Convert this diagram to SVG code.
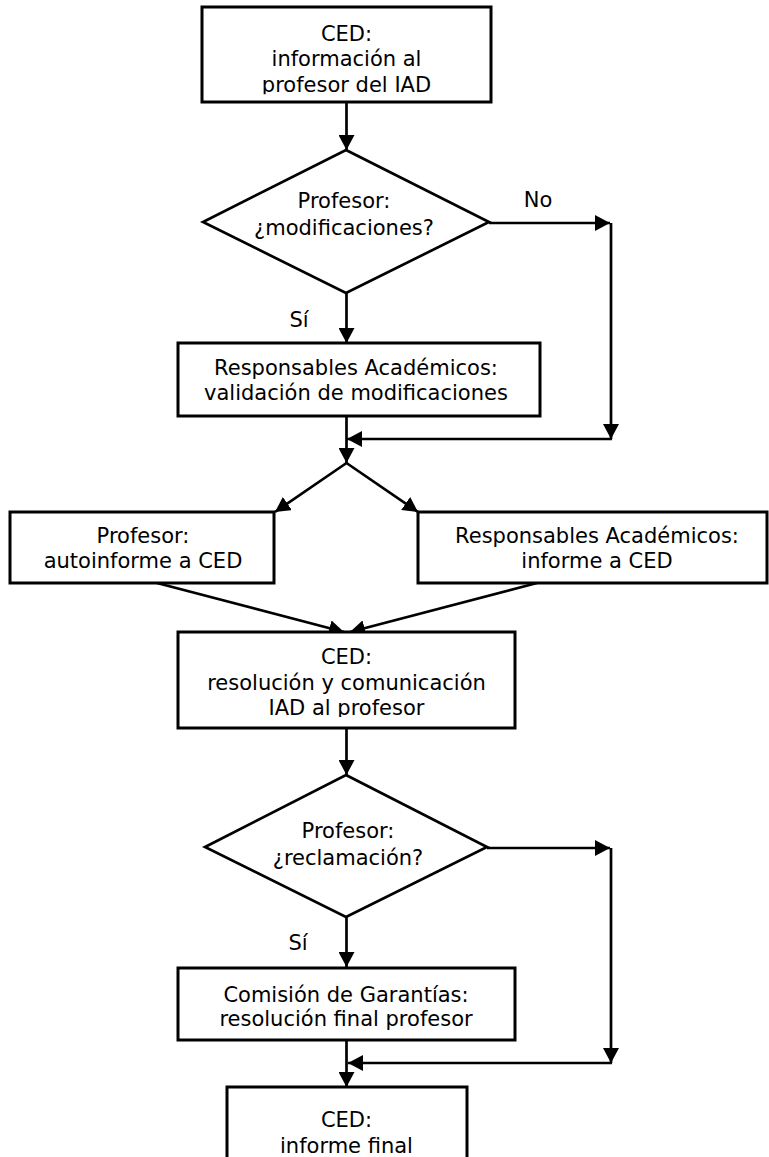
<svg xmlns="http://www.w3.org/2000/svg" width="769" height="1157" viewBox="0 0 769 1157">
<style>
.box{fill:#fff;stroke:#000;stroke-width:3}
.dia{fill:#fff;stroke:#000;stroke-width:2.7}
.t{font-family:"DejaVu Sans","Verdana",sans-serif;font-size:21px;fill:#000;text-anchor:middle}
.c{fill:none;stroke:#000;stroke-width:2.7;marker-end:url(#ah)}
</style>
<defs>
<marker id="ah" markerUnits="userSpaceOnUse" markerWidth="15" markerHeight="16" refX="15" refY="8" orient="auto" viewBox="0 0 15 16">
<path d="M0,0 L15,8 L0,16 z" fill="#000"/>
</marker>
<clipPath id="clipTop"><rect x="200" y="0" width="300" height="94.3"/></clipPath>
<clipPath id="clipCed"><rect x="170" y="630" width="360" height="87"/></clipPath>
</defs>

<g id="connectors">
<path class="c" d="M346.5,102 V150"/>
<path class="c" d="M489,223 H610"/>
<path class="c" d="M611,223 V439"/>
<path class="c" d="M612,439 H347"/>
<path class="c" d="M346.5,293 V343"/>
<path class="c" d="M346.5,416 V463"/>
<path class="c" d="M346.5,463 L275,512"/>
<path class="c" d="M346.5,463 L418,512"/>
<path class="c" d="M157,583 L344,632"/>
<path class="c" d="M537,583 L350,632"/>
<path class="c" d="M346.5,728 V775"/>
<path class="c" d="M487,848 H610"/>
<path class="c" d="M611,848 V1063"/>
<path class="c" d="M612,1063 H348"/>
<path class="c" d="M346.5,917 V967"/>
<path class="c" d="M346.5,1040 V1087"/>
<text class="t" x="538" y="207">No</text>
<text class="t" x="299" y="327">Sí</text>
<text class="t" x="298" y="950">Sí</text>
</g>

<g id="node-ced-info">
<rect class="box" x="202" y="7" width="289" height="95"/>
<g clip-path="url(#clipTop)">
<text class="t" x="346.5" y="41">CED:</text>
<text class="t" x="346.5" y="66">información al</text>
<text class="t" x="346.5" y="91.5">profesor del IAD</text>
</g>
</g>

<g id="node-dec-modificaciones">
<polygon class="dia" points="346,150 489,222 346,293 203,222"/>
<text class="t" x="344" y="208">Profesor:</text>
<text class="t" x="344" y="235">¿modificaciones?</text>
</g>

<g id="node-validacion">
<rect class="box" x="178" y="343" width="362" height="73"/>
<text class="t" x="356" y="375">Responsables Académicos:</text>
<text class="t" x="356" y="400">validación de modificaciones</text>
</g>

<g id="node-autoinforme">
<rect class="box" x="10" y="512" width="264" height="71"/>
<text class="t" x="143" y="543">Profesor:</text>
<text class="t" x="143" y="568">autoinforme a CED</text>
</g>

<g id="node-informe-ra">
<rect class="box" x="418" y="512" width="349" height="71"/>
<text class="t" x="597" y="543">Responsables Académicos:</text>
<text class="t" x="597" y="568">informe a CED</text>
</g>

<g id="node-ced-resolucion">
<rect class="box" x="178" y="632" width="337" height="96"/>
<g clip-path="url(#clipCed)">
<text class="t" x="346.5" y="664">CED:</text>
<text class="t" x="346.5" y="690">resolución y comunicación</text>
<text class="t" x="346.5" y="715">IAD al profesor</text>
</g>
</g>

<g id="node-dec-reclamacion">
<polygon class="dia" points="346,775 487,847 346,917 205,847"/>
<text class="t" x="348" y="838">Profesor:</text>
<text class="t" x="348" y="865">¿reclamación?</text>
</g>

<g id="node-comision">
<rect class="box" x="178" y="968" width="337" height="72"/>
<text class="t" x="346" y="1002">Comisión de Garantías:</text>
<text class="t" x="346" y="1026">resolución final profesor</text>
</g>

<g id="node-ced-final">
<rect class="box" x="227" y="1087" width="240" height="90"/>
<text class="t" x="346.5" y="1127">CED:</text>
<text class="t" x="346.5" y="1153">informe final</text>
</g>
</svg>
